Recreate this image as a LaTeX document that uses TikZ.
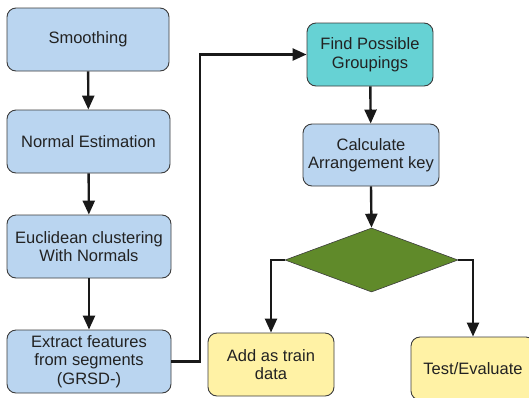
\documentclass[tikz,border=0pt]{standalone}
\usepackage{fontspec}
\setmainfont{Liberation Sans}
\usetikzlibrary{shapes.geometric,arrows.meta}
\definecolor{boxblue}{RGB}{186,213,240}
\definecolor{boxteal}{RGB}{102,210,212}
\definecolor{boxgreen}{RGB}{96,138,42}
\definecolor{boxyellow}{RGB}{255,242,165}
\definecolor{edge}{RGB}{60,60,60}
\definecolor{txt}{RGB}{34,34,34}
\tikzset{
  x=1pt, y=-1pt,
  stepbox/.style={draw=edge, line width=0.9pt, rounded corners=9pt,
    align=center, inner sep=2pt, text=txt,
    font=\fontsize{16.5}{18.5}\selectfont},
  bluebox/.style={stepbox, fill=boxblue},
  tealbox/.style={stepbox, fill=boxteal},
  yellowbox/.style={stepbox, fill=boxyellow},
  decision/.style={diamond, draw=edge, line width=0.6pt, fill=boxgreen,
    aspect=2.7, inner sep=0pt, minimum width=173pt, minimum height=64pt},
  flow/.style={line width=2.4pt, black!90,
    -{Triangle[length=14pt,width=12pt]}},
}
\begin{document}
\begin{tikzpicture}
\useasboundingbox (0,0) rectangle (529,397);

% left column
\node[bluebox, minimum width=162pt, minimum height=63pt] (smooth) at (88,39.5) {Smoothing};
\node[bluebox, minimum width=163pt, minimum height=63pt] (normal) at (88.5,141.5) {Normal Estimation};
\node[bluebox, minimum width=164pt, minimum height=63pt] (eucl) at (89,246.5) {Euclidean clustering\\With Normals};
\node[bluebox, minimum width=164pt, minimum height=63pt] (extract) at (89,361.5) {Extract features\\from segments\\(GRSD-)};

% right column
\node[tealbox, minimum width=126pt, minimum height=63pt] (find) at (370,54.5) {Find Possible\\Groupings};
\node[bluebox, minimum width=136pt, minimum height=62pt] (calc) at (371,155) {Calculate\\Arrangement key};
\node[decision] (dec) at (371.5,260) {};
\node[yellowbox, minimum width=126pt, minimum height=63pt] (add) at (271,364.5) {Add as train\\data};
\node[yellowbox, minimum width=124pt, minimum height=63pt] (test) at (473,368.5) {Test/Evaluate};

\coordinate (bend) at (200,200);

% connectors
\draw[flow] (smooth) -- (normal);
\draw[flow] (normal) -- (eucl);
\draw[flow] (eucl) -- (extract);
\draw[flow] (extract.east) -| (bend) |- (find.west);
\draw[flow] (find) -- (calc);
\draw[flow] (calc.south) -- (dec.north);
\draw[flow] (dec.west) -| (add.north);
\draw[flow] (dec.east) -| (test.north);
\end{tikzpicture}
\end{document}
